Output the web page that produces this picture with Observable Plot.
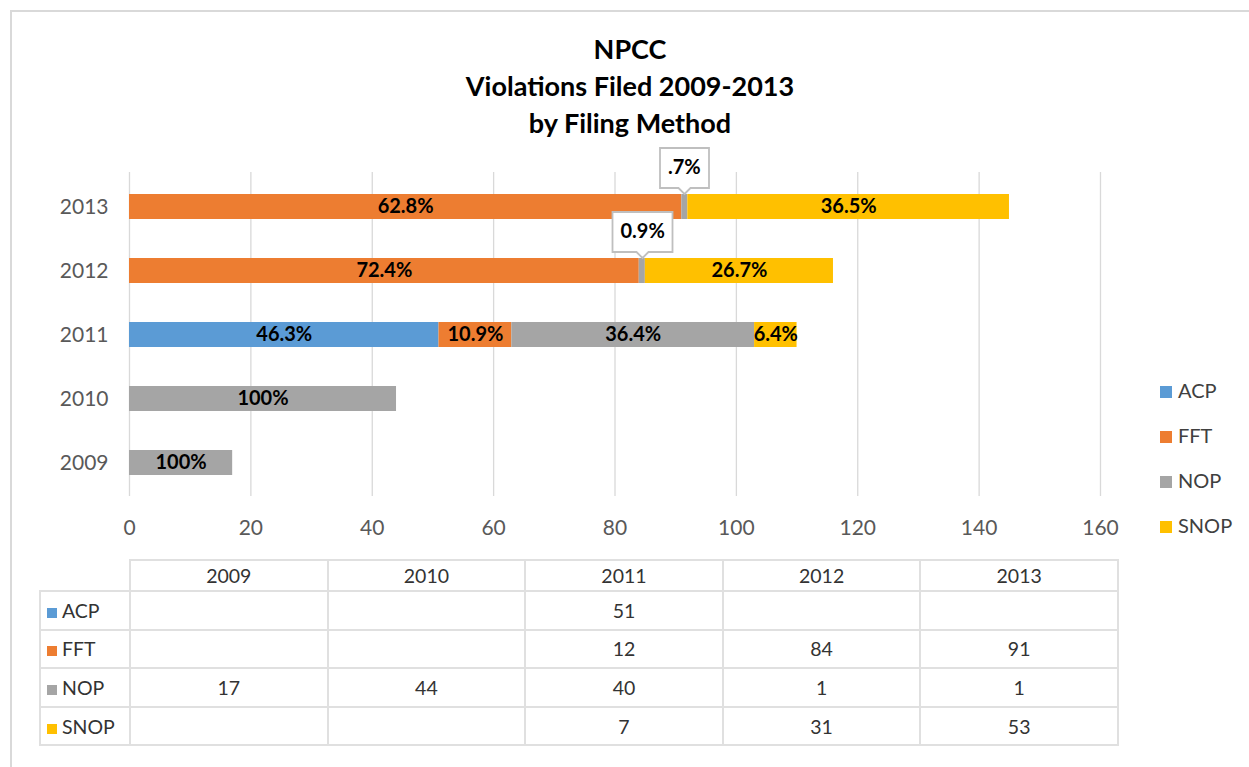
<!DOCTYPE html>
<html>
<head>
<meta charset="utf-8">
<script src="https://cdn.jsdelivr.net/npm/d3@7"></script>
<script src="https://cdn.jsdelivr.net/npm/@observablehq/plot@0.6"></script>
<style>
  html, body { margin: 0; padding: 0; background: #fff; overflow: hidden; width: 1249px; height: 767px; }
  body { position: relative; font-family: Lato, "Open Sans", sans-serif; }
  #frame { position: absolute; left: 10px; top: 10px; width: 1300px; height: 800px; border: 2px solid #d9d9d9; box-sizing: border-box; }
  #title { position: absolute; left: 0; width: 1260px; top: 30px; text-align: center; font-weight: bold; font-size: 27px; line-height: 37px; color: #000; }
  #chart { position: absolute; left: 0; top: 0; }
  #legend { position: absolute; left: 1160px; top: 0; }
  .lg { position: absolute; left: 0; white-space: nowrap; font-size: 20px; color: #404040; line-height: 20px; }
  .sw { display: inline-block; width: 12px; height: 12px; margin-right: 6px; vertical-align: 0px; }
  #tbl { position: absolute; left: 39px; top: 559px; border-collapse: collapse; font-size: 19.5px; color: #333; table-layout: fixed; }
  #tbl td { border: 2px solid #e0e0e0; text-align: center; padding: 0; }
  #tbl td.h { text-align: left; padding-left: 6px; white-space: nowrap; }
  #tbl td.blank { border: none; }
  #tbl .sw2 { display: inline-block; width: 10px; height: 10px; margin-right: 5px; }
</style>
</head>
<body>
<div id="frame"></div>
<div id="title">NPCC<br>Violations Filed 2009-2013<br>by Filing Method</div>
<div id="chart"></div>
<div id="legend"></div>
<table id="tbl"></table>
<script>
// ---- data ----
const years = ["2009", "2010", "2011", "2012", "2013"];
const methods = ["ACP", "FFT", "NOP", "SNOP"];
const colors = ["#5B9BD5", "#ED7D31", "#A5A5A5", "#FFC000"];
const acpValues  = [null, null, 51, null, null];
const fftValues  = [null, null, 12, 84, 91];
const nopValues  = [17, 44, 40, 1, 1];
const snopValues = [null, null, 7, 31, 53];
const acpLabels  = [null, null, "46.3%", null, null];
const fftLabels  = [null, null, "10.9%", "72.4%", "62.8%"];
const nopLabels  = ["100%", "100%", "36.4%", "0.9%", ".7%"];
const snopLabels = [null, null, "6.4%", "26.7%", "36.5%"];
const calloutSegments = ["2012|NOP", "2013|NOP"];
const xTicks = [0, 20, 40, 60, 80, 100, 120, 140, 160];

const seriesValues = [acpValues, fftValues, nopValues, snopValues];
const seriesLabels = [acpLabels, fftLabels, nopLabels, snopLabels];

// build stacked rows
const rows = [];
years.forEach((yr, yi) => {
  let acc = 0;
  methods.forEach((m, mi) => {
    const v = seriesValues[mi][yi];
    if (v == null) return;
    rows.push({year: yr, method: m, value: v, x1: acc, x2: acc + v, mid: acc + v / 2,
               label: seriesLabels[mi][yi], callout: calloutSegments.includes(yr + "|" + m)});
    acc += v;
  });
});

const W = 1249, H = 560;
const chart = Plot.plot({
  width: W, height: H,
  marginLeft: 129, marginRight: 149, marginTop: 172, marginBottom: 64,
  style: {fontFamily: "Lato, 'Open Sans', sans-serif", background: "transparent", overflow: "visible"},
  x: {domain: [0, 160], axis: null},
  y: {domain: years.slice().reverse(), paddingInner: 0.61, paddingOuter: 0.3, axis: null},
  color: {domain: methods, range: colors},
  marks: [
    Plot.ruleX(xTicks, {stroke: "#d9d9d9", strokeWidth: 1.3}),
    Plot.axisX(xTicks, {tickSize: 0, tickPadding: 24, fontSize: 21, fill: "#595959", label: null, tickFormat: d => String(d)}),
    Plot.axisY({tickSize: 0, tickPadding: 21, fontSize: 21, fill: "#595959", label: null}),
    Plot.barX(rows, {x1: "x1", x2: "x2", y: "year", fill: "method"}),
    Plot.text(rows.filter(d => !d.callout), {x: "mid", y: "year", text: "label", fontSize: 20, fontWeight: "bold", fill: "#000"}),
    Plot.tip(rows.filter(d => d.callout), {x: "mid", y: "year", title: "label", anchor: "bottom", dy: -13,
      fill: "white", stroke: "#bfbfbf", strokeWidth: 1.8, fontSize: 20, fontWeight: "bold",
      textPadding: 8, lineHeight: 0.85, pointerSize: 12, pathFilter: "none", textAnchor: "middle"})
  ]
});
document.getElementById("chart").appendChild(chart);

// legend
const legendTops = [380, 425, 470, 515];
const lg = document.getElementById("legend");
methods.forEach((m, i) => {
  const d = document.createElement("div");
  d.className = "lg";
  d.style.top = legendTops[i] + "px";
  d.innerHTML = `<span class="sw" style="background:${colors[i]}"></span>${m}`;
  lg.appendChild(d);
});

// data table
const tbl = document.getElementById("tbl");
const colW = [90, 197.6, 197.6, 197.6, 197.6, 197.6];
const cg = document.createElement("colgroup");
colW.forEach(w => { const c = document.createElement("col"); c.style.width = w + "px"; cg.appendChild(c); });
tbl.appendChild(cg);
const hr = document.createElement("tr");
hr.style.height = "31px";
hr.innerHTML = `<td class="blank"></td>` + years.map(y => `<td>${y}</td>`).join("");
tbl.appendChild(hr);
methods.forEach((m, mi) => {
  const tr = document.createElement("tr");
  tr.style.height = "38.6px";
  tr.innerHTML = `<td class="h"><span class="sw2" style="background:${colors[mi]}"></span>${m}</td>` +
    years.map((y, yi) => `<td>${seriesValues[mi][yi] == null ? "" : seriesValues[mi][yi]}</td>`).join("");
  tbl.appendChild(tr);
});
</script>
</body>
</html>
